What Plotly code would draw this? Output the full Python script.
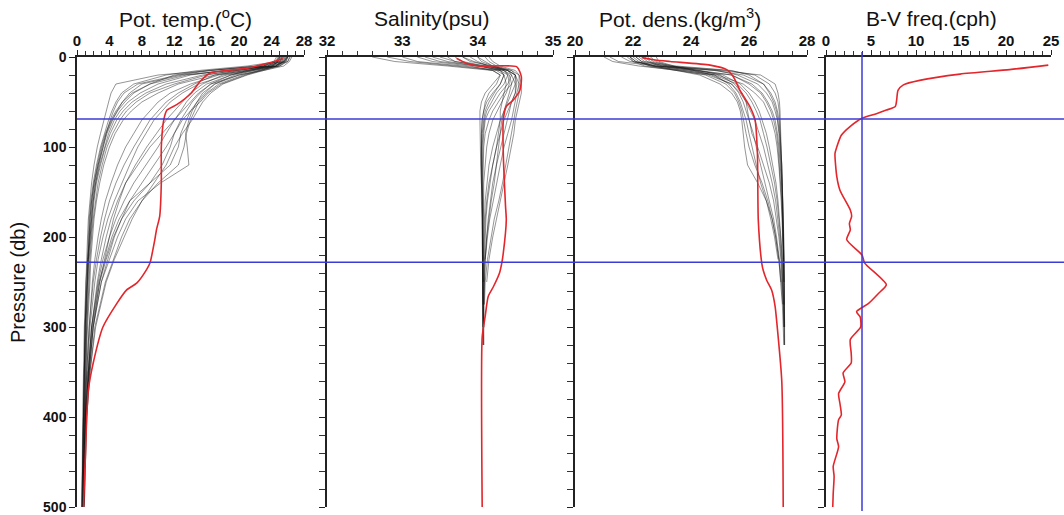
import plotly.graph_objects as go

W, H = 1064, 515

# ---------------- data ----------------
# shared pressure levels (db) of the black profiles
p_levels = [0, 5, 10, 15, 20, 30, 40, 50, 60, 70, 85, 100, 120, 140, 160, 180, 200, 225, 250, 300, 350, 400, 500]
p_levels_ctd = [0, 5, 10, 15, 20, 30, 40, 50, 60, 70, 85, 100, 120, 140, 160, 180, 200, 225, 250, 275, 300, 320]

# potential temperature profiles (deg C)
t01 = [25.8, 25.5, 23.0, 17.0, 10.0, 4.8, 4.2, 3.9, 3.6, 3.3, 2.9, 2.5, 2.1, 1.8, 1.6, 1.4, 1.3, 1.2, 1.1, 0.9, 0.8, 0.7, 0.6]
t02 = [25.2, 24.8, 21.0, 15.0, 11.0, 7.0, 5.5, 4.8, 4.3, 3.9, 3.4, 2.9, 2.4, 2.0, 1.7, 1.5, 1.4, 1.3, 1.1, 1.0, 0.9, 0.8, 0.6]
t03 = [26.0, 25.6, 24.5, 19.0, 13.0, 8.0, 6.5, 5.6, 4.9, 4.3, 3.6, 3.1, 2.6, 2.2, 1.9, 1.7, 1.5, 1.3, 1.2, 1.0, 0.9, 0.8, 0.6]
t04 = [24.8, 24.5, 22.5, 16.0, 12.0, 9.0, 7.0, 5.9, 5.0, 4.4, 3.7, 3.2, 2.6, 2.1, 1.8, 1.6, 1.5, 1.3, 1.2, 1.0, 0.9, 0.8, 0.7]
t05 = [25.5, 25.2, 23.5, 18.0, 14.0, 10.0, 7.8, 6.3, 5.3, 4.6, 3.9, 3.4, 2.8, 2.3, 2.0, 1.8, 1.6, 1.4, 1.3, 1.1, 1.0, 0.9, 0.7]
t06 = [26.2, 26.0, 24.0, 20.0, 15.5, 11.0, 8.5, 6.8, 5.7, 4.9, 4.1, 3.5, 2.9, 2.4, 2.1, 1.9, 1.7, 1.5, 1.4, 1.2, 1.0, 0.9, 0.7]
t07 = [25.0, 24.6, 23.0, 19.5, 16.0, 12.0, 9.0, 7.3, 6.1, 5.3, 4.4, 3.7, 3.1, 2.6, 2.3, 2.0, 1.8, 1.6, 1.5, 1.2, 1.1, 0.9, 0.7]
t08 = [25.7, 25.4, 24.8, 21.0, 17.0, 12.5, 10.0, 8.0, 6.7, 5.7, 4.7, 4.0, 3.3, 2.8, 2.4, 2.1, 1.9, 1.7, 1.6, 1.3, 1.1, 1.0, 0.8]
t09 = [25.3, 25.0, 23.8, 20.5, 17.5, 14.0, 11.5, 10.0, 9.0, 8.0, 7.0, 6.0, 5.0, 4.2, 3.5, 3.0, 2.6, 2.2, 1.9, 1.5, 1.2, 1.0, 0.8]
t10 = [26.0, 25.8, 25.0, 22.0, 18.5, 15.0, 13.0, 11.5, 10.5, 9.5, 8.5, 7.5, 6.5, 5.5, 4.6, 3.8, 3.2, 2.6, 2.2, 1.6, 1.3, 1.0, 0.8]
t11 = [24.6, 24.3, 23.0, 20.0, 17.0, 14.5, 12.5, 11.0, 10.0, 9.0, 8.0, 7.0, 5.8, 4.8, 4.0, 3.4, 2.9, 2.4, 2.0, 1.5, 1.2, 1.0, 0.8]
t12 = [25.9, 25.5, 24.5, 21.5, 18.0, 15.5, 14.0, 13.0, 12.0, 11.0, 9.8, 8.6, 7.2, 6.0, 5.0, 4.2, 3.6, 3.0, 2.5, 1.8, 1.4, 1.1, 0.8]
t13 = [25.1, 24.8, 24.0, 21.0, 19.0, 16.0, 14.5, 13.5, 12.8, 12.0, 11.0, 10.0, 8.5, 7.0, 5.8, 4.8, 4.0, 3.2, 2.6, 1.8, 1.4, 1.1, 0.8]
t14 = [26.5, 26.2, 25.5, 23.0, 20.0, 16.5, 15.0, 14.0, 13.0, 12.0, 10.5, 9.0, 7.5, 6.0, 5.2, 4.5, 4.0, 3.4, 2.8, 2.0, 1.5, 1.1, 0.8]
t15 = [25.6, 25.3, 24.5, 22.5, 20.5, 17.5, 16.0, 15.0, 14.5, 14.0, 13.5, 13.2, 12.5, 10.0, 8.0, 6.5, 5.5, 4.5, 3.5, 2.2, 1.6, 1.2, 0.9]
t16 = [25.0, 24.8, 24.2, 22.0, 19.5, 17.0, 15.5, 14.8, 14.2, 13.8, 13.4, 13.6, 13.8, 10.3, 7.5, 6.0, 5.0, 4.0, 3.0, 2.0, 1.5, 1.1, 0.8]
t17 = [26.3, 26.0, 25.0, 23.0, 21.0, 18.0, 16.5, 15.5, 14.8, 14.2, 13.0, 12.0, 11.0, 9.5, 8.0, 6.8, 5.8, 4.6, 3.6, 2.3, 1.6, 1.2, 0.9]
t18 = [24.9, 24.6, 23.5, 21.5, 19.0, 16.5, 15.2, 14.2, 13.5, 12.8, 12.0, 11.0, 9.5, 8.0, 6.5, 5.5, 4.6, 3.8, 3.0, 2.0, 1.5, 1.1, 0.8]
t19 = [25.4, 25.1, 24.6, 22.8, 20.8, 17.8, 16.2, 15.2, 14.0, 13.0, 12.0, 11.5, 10.5, 9.0, 7.0, 5.5, 4.5, 3.6, 2.8, 1.9, 1.4, 1.1, 0.8]
t20 = [26.0, 25.7, 24.8, 22.5, 20.0, 17.0, 15.8, 14.8, 14.0, 13.5, 12.8, 12.5, 11.5, 9.0, 6.5, 5.2, 4.3, 3.5, 2.7, 1.8, 1.4, 1.0, 0.8]
t21 = [25.3, 25.0, 22.0, 16.5, 12.5, 7.5, 5.8, 5.0, 4.5, 4.1, 3.6, 3.2, 2.7, 2.3, 2.0, 1.8, 1.6, 1.4, 1.3, 1.1, 0.9, 0.8, 0.7]
t22 = [25.9, 25.6, 24.0, 18.5, 13.5, 9.0, 6.8, 5.6, 4.8, 4.2, 3.5, 3.0, 2.5, 2.1, 1.8, 1.6, 1.5, 1.3, 1.2, 1.0, 0.9, 0.8, 0.6]

# salinity profiles (psu); casts end at different depths
s01 = [32.6, 32.9, 33.6, 34.2, 34.3, 34.25, 34.15, 34.1, 34.08, 34.06, 34.05, 34.05, 34.05, 34.05, 34.06, 34.06, 34.06, 34.07, 34.07, 34.07, 34.07, 34.07]
s02 = [33.0, 33.2, 33.8, 34.3, 34.35, 34.3, 34.2, 34.12, 34.08, 34.06, 34.05, 34.05, 34.05, 34.06, 34.06, 34.06, 34.07, 34.07, 34.07, 34.07]
s03 = [33.3, 33.5, 34.0, 34.35, 34.4, 34.35, 34.25, 34.18, 34.12, 34.09, 34.07, 34.06, 34.06, 34.06, 34.06, 34.07, 34.07, 34.07, 34.07, 34.07, 34.07]
s04 = [33.6, 33.7, 34.1, 34.4, 34.45, 34.4, 34.3, 34.22, 34.15, 34.1, 34.08, 34.07, 34.06, 34.06, 34.07, 34.07, 34.07, 34.07, 34.07]
s05 = [33.8, 33.9, 34.2, 34.45, 34.5, 34.45, 34.35, 34.28, 34.2, 34.15, 34.1, 34.08, 34.07, 34.07, 34.07, 34.07, 34.07, 34.07, 34.08, 34.08, 34.08, 34.08]
s06 = [33.4, 33.6, 34.0, 34.3, 34.4, 34.42, 34.38, 34.32, 34.25, 34.2, 34.15, 34.12, 34.1, 34.08, 34.08, 34.07, 34.07, 34.07]
s07 = [34.0, 34.05, 34.2, 34.4, 34.5, 34.5, 34.45, 34.4, 34.35, 34.3, 34.25, 34.2, 34.15, 34.12, 34.1, 34.09, 34.08, 34.08, 34.08, 34.08, 34.08]
s08 = [33.7, 33.8, 34.1, 34.35, 34.45, 34.5, 34.5, 34.45, 34.4, 34.35, 34.3, 34.25, 34.2, 34.16, 34.13, 34.11, 34.1, 34.09, 34.08]
s09 = [34.1, 34.15, 34.25, 34.45, 34.55, 34.55, 34.52, 34.5, 34.47, 34.45, 34.4, 34.35, 34.3, 34.25, 34.2, 34.16, 34.13, 34.1, 34.09, 34.08, 34.08, 34.08]
s10 = [33.9, 34.0, 34.15, 34.4, 34.5, 34.55, 34.55, 34.52, 34.5, 34.48, 34.45, 34.42, 34.38, 34.33, 34.28, 34.22, 34.18, 34.13, 34.1, 34.09]
s11 = [33.5, 33.7, 34.05, 34.3, 34.35, 34.38, 34.35, 34.32, 34.3, 34.3, 34.28, 34.25, 34.2, 34.15, 34.12, 34.1, 34.09, 34.08, 34.08, 34.08, 34.08]
s12 = [34.15, 34.2, 34.3, 34.5, 34.55, 34.58, 34.58, 34.55, 34.52, 34.5, 34.48, 34.45, 34.4, 34.35, 34.3, 34.25, 34.2, 34.15, 34.12]
s13 = [33.2, 33.4, 33.9, 34.2, 34.3, 34.2, 34.1, 34.05, 34.03, 34.03, 34.03, 34.04, 34.04, 34.05, 34.05, 34.06, 34.06, 34.06, 34.07, 34.07, 34.07, 34.07]
s14 = [33.8, 33.95, 34.15, 34.35, 34.42, 34.45, 34.42, 34.38, 34.35, 34.32, 34.3, 34.28, 34.25, 34.22, 34.18, 34.15, 34.12, 34.1]
s15 = [34.0, 34.1, 34.2, 34.4, 34.5, 34.52, 34.5, 34.45, 34.42, 34.4, 34.35, 34.3, 34.25, 34.2, 34.17, 34.14, 34.12, 34.1, 34.09, 34.08]
s16 = [32.8, 33.1, 33.7, 34.25, 34.35, 34.3, 34.22, 34.15, 34.1, 34.08, 34.06, 34.05, 34.05, 34.05, 34.06, 34.06, 34.06, 34.07, 34.07, 34.07, 34.07]

# potential density profiles (sigma-theta, kg/m3 - 1000)
d01 = [21.2, 21.5, 22.8, 25.0, 26.4, 26.9, 27.0, 27.05, 27.07, 27.08, 27.1, 27.12, 27.14, 27.16, 27.18, 27.19, 27.2, 27.21, 27.22, 27.22, 27.23, 27.23]
d02 = [21.6, 21.9, 23.2, 25.3, 26.2, 26.7, 26.9, 27.0, 27.04, 27.06, 27.08, 27.1, 27.13, 27.15, 27.17, 27.18, 27.19, 27.2, 27.21, 27.22]
d03 = [21.9, 22.1, 22.8, 24.8, 25.8, 26.5, 26.75, 26.9, 26.98, 27.03, 27.07, 27.1, 27.13, 27.15, 27.17, 27.18, 27.19, 27.2, 27.21, 27.22, 27.23]
d04 = [22.2, 22.4, 23.5, 25.4, 26.0, 26.5, 26.7, 26.85, 26.95, 27.0, 27.05, 27.08, 27.12, 27.14, 27.16, 27.18, 27.19, 27.2, 27.21]
d05 = [22.1, 22.3, 23.2, 24.9, 25.6, 26.3, 26.6, 26.8, 26.9, 26.98, 27.03, 27.07, 27.1, 27.13, 27.15, 27.17, 27.18, 27.2, 27.21, 27.21, 27.22, 27.22]
d06 = [21.9, 22.0, 22.8, 24.2, 25.4, 26.1, 26.45, 26.65, 26.8, 26.9, 26.98, 27.03, 27.08, 27.12, 27.14, 27.16, 27.18, 27.19]
d07 = [22.5, 22.7, 23.2, 24.4, 25.4, 26.0, 26.4, 26.6, 26.75, 26.85, 26.95, 27.0, 27.05, 27.1, 27.13, 27.15, 27.17, 27.19, 27.2, 27.21, 27.22]
d08 = [22.0, 22.2, 22.6, 23.8, 24.9, 25.8, 26.2, 26.5, 26.65, 26.78, 26.9, 26.97, 27.03, 27.08, 27.11, 27.14, 27.16, 27.18, 27.2]
d09 = [22.3, 22.5, 22.9, 24.0, 24.8, 25.6, 25.9, 26.1, 26.25, 26.38, 26.5, 26.62, 26.75, 26.88, 26.97, 27.04, 27.09, 27.14, 27.17, 27.19, 27.21, 27.22]
d10 = [21.8, 22.0, 22.4, 23.6, 24.6, 25.4, 25.7, 25.9, 26.05, 26.2, 26.35, 26.5, 26.65, 26.8, 26.92, 27.0, 27.06, 27.12, 27.16, 27.19]
d11 = [22.6, 22.8, 23.3, 24.3, 25.0, 25.5, 25.75, 25.9, 25.95, 26.0, 26.1, 26.3, 26.5, 26.7, 26.85, 26.95, 27.03, 27.1, 27.15, 27.18, 27.2]
d12 = [22.1, 22.3, 22.7, 23.5, 24.3, 25.0, 25.4, 25.6, 25.7, 25.75, 25.8, 25.85, 25.95, 26.3, 26.6, 26.8, 26.92, 27.03, 27.1]
d13 = [21.0, 21.3, 22.2, 23.6, 24.5, 25.2, 25.5, 25.65, 25.75, 25.82, 25.9, 26.0, 26.2, 26.45, 26.65, 26.8, 26.92, 27.03, 27.1, 27.15, 27.18, 27.2]
d14 = [22.8, 22.9, 23.4, 24.1, 24.8, 25.3, 25.55, 25.7, 25.8, 25.9, 26.0, 26.1, 26.25, 26.4, 26.6, 26.75, 26.88, 27.0]
d15 = [21.9, 22.1, 22.6, 23.8, 24.7, 25.4, 25.65, 25.8, 25.9, 26.0, 26.15, 26.25, 26.4, 26.55, 26.7, 26.85, 26.95, 27.05, 27.12, 27.16]
d16 = [22.4, 22.6, 23.0, 24.2, 25.1, 25.7, 26.0, 26.2, 26.35, 26.45, 26.6, 26.7, 26.82, 26.93, 27.0, 27.06, 27.1, 27.15, 27.18, 27.2, 27.21]

# highlighted (red) station
red_temp_p = [2, 7, 12.6, 18, 27, 40, 53, 59, 70, 100, 140, 177, 192, 203, 229, 236, 251, 259, 274, 300, 340, 370, 400, 451, 500]
red_temp = [25.4, 23.5, 20.9, 16.4, 15.2, 14.1, 12.3, 11.1, 10.7, 10.4, 10.4, 10.2, 9.8, 9.6, 9.0, 8.6, 7.4, 6.1, 4.9, 3.2, 2.0, 1.4, 1.2, 1.0, 0.8]

red_sal_p = [1.5, 7, 10, 11, 22, 37, 48, 55, 70, 107, 166, 181, 218, 229, 240, 255, 266, 288, 311, 500]
red_sal = [33.72, 33.85, 34.0, 34.52, 34.58, 34.56, 34.47, 34.38, 34.34, 34.34, 34.37, 34.38, 34.34, 34.32, 34.29, 34.21, 34.14, 34.10, 34.06, 34.06]

red_dens_p = [0.4, 3, 5, 9, 14, 22, 37, 55, 70, 107, 181, 229, 237, 248, 259, 277, 292, 360, 500]
red_dens = [22.30, 22.70, 23.28, 24.66, 25.23, 25.46, 25.69, 26.03, 26.21, 26.29, 26.32, 26.44, 26.49, 26.61, 26.78, 26.90, 26.95, 27.13, 27.18]

bv_p = [9, 14, 19, 26, 31, 37, 48, 55, 59, 63, 68, 77, 87, 100, 107, 133, 148, 170, 177, 185, 192, 203, 220, 229, 253, 263, 274, 283, 289, 300, 314, 329, 340, 351, 361, 374, 385, 398, 403, 424, 433, 455, 466, 485, 500]
bv_freq = [24.7, 20.4, 14.9, 10.4, 8.6, 8.0, 7.85, 7.7, 6.7, 5.6, 4.0, 2.7, 1.7, 1.2, 1.0, 1.2, 1.55, 2.7, 2.85, 2.6, 2.7, 2.3, 4.0, 4.3, 6.7, 5.8, 4.7, 3.4, 3.8, 3.85, 2.7, 2.8, 2.8, 1.9, 2.1, 1.4, 1.55, 1.7, 1.4, 1.2, 1.4, 0.8, 0.9, 0.8, 0.75]

mixed_layer_db = [69, 228]
bv_ref_cph = 4

titles = ["Pot. temp.(<sup>o</sup>C)", "Salinity(psu)", "Pot. dens.(kg/m<sup>3</sup>)", "B-V freq.(cph)"]
y_title = "Pressure (db)"

temp_profiles = [t01, t02, t03, t04, t05, t06, t07, t08, t09, t10, t11,
                 t12, t13, t14, t15, t16, t17, t18, t19, t20, t21, t22]
sal_profiles = [s01, s02, s03, s04, s05, s06, s07, s08, s09, s10, s11, s12, s13, s14, s15, s16]
dens_profiles = [d01, d02, d03, d04, d05, d06, d07, d08, d09, d10, d11, d12, d13, d14, d15, d16]

# ---------------- figure ----------------
BLACK = "rgba(20,20,20,0.45)"
RED = "#e3262b"
BLUE = "#3b3bd6"
FONT = "Arial, Liberation Sans, sans-serif"

fig = go.Figure()

def add_profiles(profiles, levels, xa, ya):
    for prof in profiles:
        fig.add_trace(go.Scatter(x=prof, y=levels[:len(prof)], mode="lines",
                                 line=dict(color=BLACK, width=1),
                                 xaxis=xa, yaxis=ya, showlegend=False, hoverinfo="skip"))

add_profiles(temp_profiles, p_levels, "x", "y")
add_profiles(sal_profiles, p_levels_ctd, "x2", "y2")
add_profiles(dens_profiles, p_levels_ctd, "x3", "y3")

for xs, ys, xa, ya in [(red_temp, red_temp_p, "x", "y"), (red_sal, red_sal_p, "x2", "y2"),
                       (red_dens, red_dens_p, "x3", "y3"), (bv_freq, bv_p, "x4", "y4")]:
    fig.add_trace(go.Scatter(x=xs, y=ys, mode="lines", line=dict(color=RED, width=1.6, shape="spline", smoothing=0.6),
                             xaxis=xa, yaxis=ya, showlegend=False, hoverinfo="skip"))

ydom = [1 - 507 / H, 1 - 57 / H]
panels = [  # (px left, px right, axis range, major tick values, minor dtick)
    (77, 304, [0, 28], [0, 4, 8, 12, 16, 20, 24, 28], 1),
    (327, 553, [32, 35], [32, 33, 34, 35], 0.2),
    (575, 807, [20, 28], [20, 22, 24, 26, 28], 0.5),
    (826, 1051, [0, 25], [0, 5, 10, 15, 20, 25], 1),
]
y_ticks = [0, 100, 200, 300, 400, 500]

xtickfont = dict(family=FONT, size=15, color="#111", weight=700)
ytickfont = dict(family=FONT, size=14, color="#111", weight=700)
layout = dict(width=W, height=H, margin=dict(l=0, r=0, t=0, b=0),
              paper_bgcolor="white", plot_bgcolor="white", showlegend=False)

for i, (l, r, rng, tv, mdt) in enumerate(panels):
    sfx = "" if i == 0 else str(i + 1)
    layout["xaxis" + sfx] = dict(domain=[l / W, r / W], range=rng, side="top", anchor="y" + sfx,
                                 tickmode="array", tickvals=tv,
                                 ticktext=["<b>%g</b>" % v for v in tv],
                                 ticks="outside", ticklen=5, tickwidth=1.3,
                                 tickcolor="#222", showline=True, linecolor="#222", linewidth=1.5,
                                 showgrid=False, zeroline=False, tickfont=xtickfont,
                                 minor=dict(dtick=mdt, tick0=rng[0], ticks="outside", ticklen=4,
                                            tickwidth=1, tickcolor="#333", showgrid=False),
                                 automargin=False, ticklabelstandoff=-2)
    layout["yaxis" + sfx] = dict(domain=ydom, range=[500, 0], anchor="x" + sfx, side="left",
                                 tickmode="array", tickvals=y_ticks,
                                 ticktext=["<b>%d</b>" % v for v in y_ticks],
                                 ticks="outside", ticklen=6, tickwidth=1.3,
                                 tickcolor="#222", showline=True, linecolor="#222", linewidth=1.5,
                                 showgrid=False, zeroline=False, tickfont=ytickfont,
                                 showticklabels=(i == 0),
                                 minor=dict(dtick=20, tick0=0, ticks="outside", ticklen=6,
                                            tickwidth=1, tickcolor="#333", showgrid=False),
                                 automargin=False)

fig.update_layout(**layout)

# panel titles
title_x = [185, 432, 680, 931]
for tx, tt in zip(title_x, titles):
    fig.add_annotation(x=tx / W, y=1 - 18 / H, xref="paper", yref="paper", text=tt,
                       showarrow=False, font=dict(family=FONT, size=21, color="#111"),
                       xanchor="center", yanchor="middle")

fig.add_annotation(x=18 / W, y=1 - 283 / H, xref="paper", yref="paper", text=y_title,
                   textangle=-90, showarrow=False,
                   font=dict(family=FONT, size=20, color="#111"),
                   xanchor="center", yanchor="middle")

# reference lines
for pv in mixed_layer_db:
    fig.add_shape(type="line", xref="paper", yref="y", x0=77 / W, x1=1, y0=pv, y1=pv,
                  line=dict(color=BLUE, width=1.5))
fig.add_shape(type="line", xref="x4", yref="paper", x0=bv_ref_cph, x1=bv_ref_cph,
              y0=1 - 511 / H, y1=1 - 52 / H, line=dict(color=BLUE, width=1.5))

fig.write_html("out.html")
